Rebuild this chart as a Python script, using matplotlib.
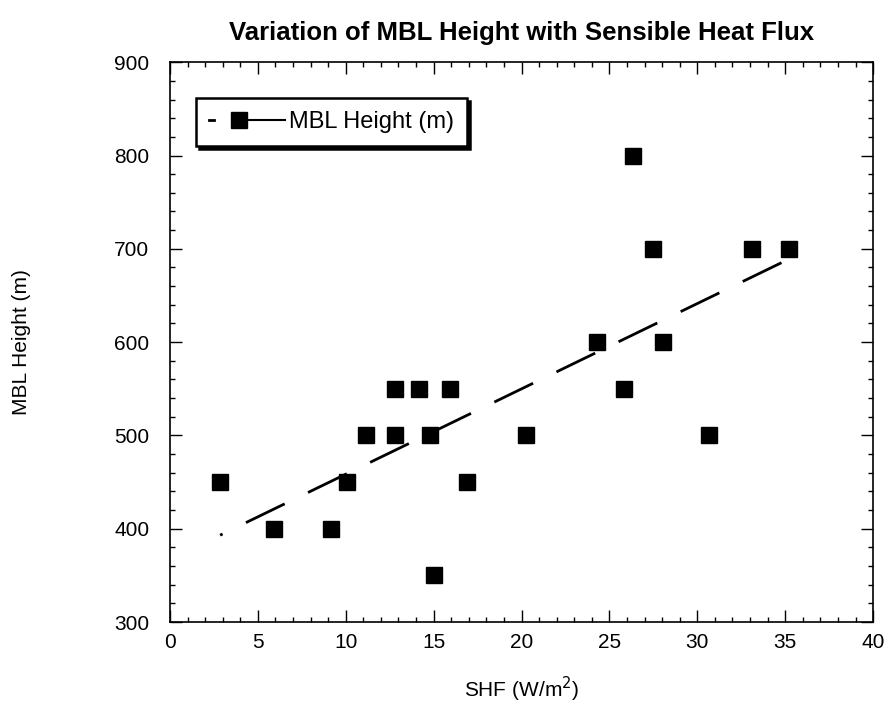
import numpy as np
import matplotlib
matplotlib.use('Agg')
from matplotlib import pyplot as plt
from matplotlib.lines import Line2D
from matplotlib.legend_handler import HandlerLine2D
from matplotlib.ticker import MultipleLocator

plt.rcParams['font.family'] = ['Liberation Sans', 'DejaVu Sans']
plt.rcParams['lines.scale_dashes'] = False

# values
shf = [2.85, 5.94, 9.17, 10.07, 11.17, 12.8, 12.8, 14.15, 14.78, 15.04, 15.95,
       16.87, 20.28, 24.31, 25.83, 26.36, 27.5, 28.03, 30.67, 33.09, 35.2]
mbl = [450, 400, 400, 450, 500, 500, 550, 550, 500, 350, 550,
       450, 500, 600, 550, 800, 700, 600, 500, 700, 700]
x_ticks = [0, 5, 10, 15, 20, 25, 30, 35, 40]
y_ticks = [300, 400, 500, 600, 700, 800, 900]


class MarkerLeftHandler(HandlerLine2D):
    # legend sample: short dash, square marker, then line to the right
    def create_artists(self, legend, orig_handle, xdescent, ydescent,
                       width, height, fontsize, trans):
        y = height / 2 - ydescent
        x0 = -xdescent
        dash = Line2D([x0, x0 + 0.07 * width], [y, y], color='black', lw=2)
        line = Line2D([x0 + 0.4 * width, x0 + width], [y, y], color='black', lw=1.5)
        mark = Line2D([x0 + 0.4 * width], [y], marker='s', ms=11, color='black', ls='none')
        for a in (dash, line, mark):
            a.set_transform(trans)
        return [dash, line, mark]


fig = plt.figure(figsize=(8.9, 7.15), dpi=100)
ax = fig.add_axes([0.191, 0.130, 0.790, 0.783])

ax.plot(shf, mbl, 's', color='black', ms=11.5, label='MBL Height (m)')

# least squares trend line
slope, icpt = np.polyfit(shf, mbl, 1)
xf = np.array([min(shf), max(shf)])
ax.plot(xf, slope * xf + icpt, color='black', lw=2, linestyle=(29, (31, 18.7)))

ax.set_xlim(0, 40)
ax.set_ylim(300, 900)
ax.set_xticks(x_ticks)
ax.set_yticks(y_ticks)
ax.xaxis.set_minor_locator(MultipleLocator(1))
ax.yaxis.set_minor_locator(MultipleLocator(20))
ax.tick_params(which='both', direction='in', top=True, right=True, width=1, labelsize=15)
ax.tick_params(axis='x', which='major', pad=8)
ax.tick_params(axis='y', which='major', pad=15)
ax.tick_params(which='major', length=8.5)
ax.tick_params(which='minor', length=3.5)
for s in ax.spines.values():
    s.set_linewidth(1.2)

ax.set_xlabel('SHF (W/m$^2$)', fontsize=15, labelpad=16)
ax.set_ylabel('MBL Height (m)', fontsize=15, labelpad=60)
ax.set_title('Variation of MBL Height with Sensible Heat Flux', fontsize=18.5, fontweight='bold', pad=16)

h = Line2D([], [], color='black')
leg = ax.legend([h], ['MBL Height (m)'], handler_map={h: MarkerLeftHandler()},
                loc='upper left', bbox_to_anchor=(0.037, 0.936), borderaxespad=0,
                fancybox=False, edgecolor='black', framealpha=1, fontsize=17,
                handlelength=3.2, handletextpad=0.2, borderpad=0.55,
                shadow={'color': 'black', 'alpha': 1})
leg.get_frame().set_linewidth(1.8)

fig.savefig('out.png', dpi=100)
